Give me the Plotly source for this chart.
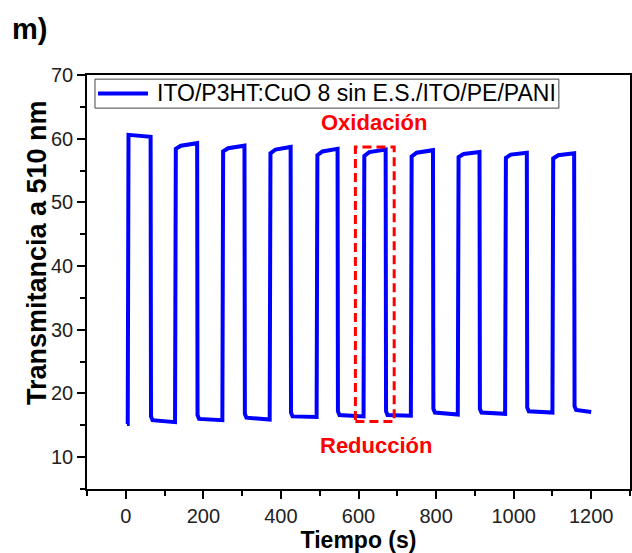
import plotly.graph_objects as go

# ---- data ----
start_time = 3
start_value = 15.2
rise_t = [5, 127, 249, 371, 492, 613, 735, 856, 978, 1100]
fall_t = [64, 184, 306, 425, 546, 670, 792, 912, 1034, 1156]
high_start = [60.6, 58.4, 58.0, 57.7, 57.4, 57.3, 57.2, 57.1, 57.0, 56.9]
high_mid = [60.5, 58.9, 58.5, 58.3, 58.0, 57.9, 57.8, 57.6, 57.5, 57.4]
high_end = [60.3, 59.3, 58.9, 58.7, 58.4, 58.3, 58.2, 57.9, 57.8, 57.7]
low_start = [15.8, 16.0, 16.2, 16.4, 16.6, 16.6, 17.0, 17.0, 17.2, 17.4]
low_end = [15.5, 15.8, 15.9, 16.3, 16.4, 16.5, 16.7, 16.8, 17.0, 17.1]
end_time = 1200

series_name = "ITO/P3HT:CuO 8 sin E.S./ITO/PE/PANI"
x_ticks = [0, 200, 400, 600, 800, 1000, 1200]
y_ticks = [10, 20, 30, 40, 50, 60, 70]

# highlighted cycle (dashed box)
box_t = [592, 692]
box_v = [15.6, 58.7]

# ---- build the trace path ----
xs = [start_time]
ys = [start_value]
prev_low = start_value
for i in range(len(rise_t)):
    next_t = rise_t[i + 1] if i + 1 < len(rise_t) else end_time
    xs += [rise_t[i], rise_t[i] + 2, rise_t[i] + 15, fall_t[i],
           fall_t[i] + 1, fall_t[i] + 5, next_t]
    ys += [prev_low, high_start[i], high_mid[i], high_end[i],
           low_start[i] + 0.6, low_start[i], low_end[i]]
    prev_low = low_end[i]

FONT = "Arial, Liberation Sans, sans-serif"
BLUE = "#0000FF"

fig = go.Figure()
fig.add_trace(go.Scatter(
    x=xs, y=ys, mode="lines", name=series_name,
    line=dict(color=BLUE, width=4),
    showlegend=False,
))

# legend box drawn to match the reference geometry
fig.add_shape(type="rect", xref="paper", yref="paper",
              x0=0.0147, x1=0.869, y0=0.920, y1=0.990,
              line=dict(color="#444444", width=1), fillcolor="white", layer="above")
fig.add_shape(type="line", xref="paper", yref="paper",
              x0=0.0203, x1=0.1123, y0=0.9555, y1=0.9555,
              line=dict(color=BLUE, width=4), layer="above")
fig.add_annotation(x=0.125, y=0.9555, xref="paper", yref="paper",
                   xanchor="left", yanchor="middle", text=series_name,
                   showarrow=False,
                   font=dict(family=FONT, size=23, color="black"))

fig.add_shape(type="rect", xref="x", yref="y",
              x0=box_t[0], x1=box_t[1], y0=box_v[0], y1=box_v[1],
              line=dict(color="#FF0000", width=3, dash="9px,5px"))

fig.add_annotation(x=640, y=62.6, xref="x", yref="y",
                   text="<b>Oxidación</b>", showarrow=False,
                   font=dict(family=FONT, size=22, color="#FF0000"))
fig.add_annotation(x=645, y=11.9, xref="x", yref="y",
                   text="<b>Reducción</b>", showarrow=False,
                   font=dict(family=FONT, size=22, color="#FF0000"))
fig.add_annotation(x=-0.142, y=1.11, xref="paper", yref="paper",
                   xanchor="left", yanchor="middle",
                   text="<b>m)</b>", showarrow=False,
                   font=dict(family=FONT, size=29, color="#000000"))

# y-axis title (placed as in the reference, slightly above centre)
fig.add_annotation(x=-0.092, y=0.570, xref="paper", yref="paper",
                   xanchor="center", yanchor="middle", textangle=-90,
                   text="<b>Transmitancia a 510 nm</b>", showarrow=False,
                   font=dict(family=FONT, size=27, color="black"))

axis_common = dict(
    showline=True, linecolor="black", linewidth=1.5, mirror=True,
    ticks="outside", ticklen=8, tickwidth=1.5, tickcolor="black",
    showgrid=False, zeroline=False, automargin=False,
    tickfont=dict(family=FONT, size=20, color="#222222"),
)

fig.update_xaxes(
    range=[-100, 1300], tickvals=x_ticks,
    minor=dict(ticks="outside", ticklen=5, tickwidth=1.5, tickcolor="black", dtick=100, tick0=0),
    title=dict(text="<b>Tiempo (s)</b>", font=dict(family=FONT, size=23, color="black"), standoff=6),
    **axis_common,
)
fig.update_yaxes(
    range=[5, 70], tickvals=y_ticks,
    minor=dict(ticks="outside", ticklen=5, tickwidth=1.5, tickcolor="black", dtick=5, tick0=0),
    **axis_common,
)

fig.update_layout(
    width=632, height=553,
    margin=dict(l=87, r=2, t=75, b=64),
    plot_bgcolor="white", paper_bgcolor="white",
)

fig.write_html("out.html", config={"displayModeBar": False},
               post_script="document.body.style.margin='0';document.body.style.padding='0';")
